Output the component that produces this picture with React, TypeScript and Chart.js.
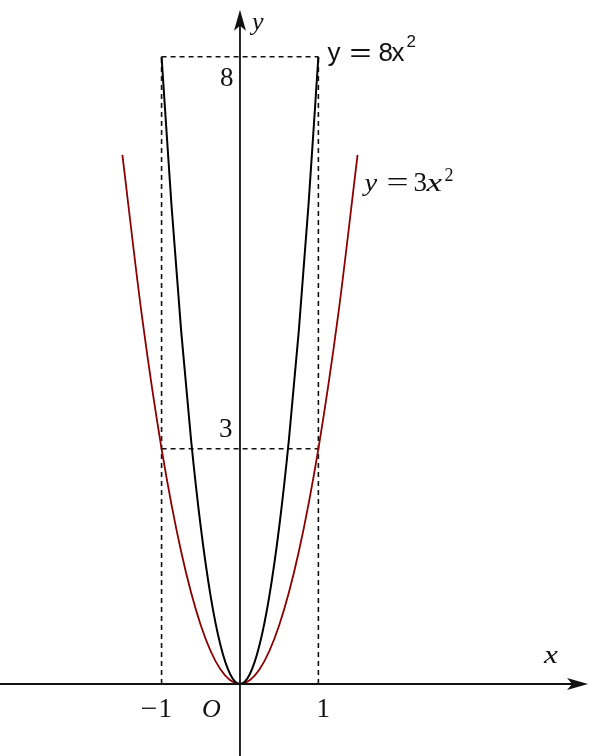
import { useRef, useEffect } from "react";
import Chart from "chart.js/auto";

// sample points for y = 8x^2 (on [-1, 1]) and y = 3x^2 (on [-1.5, 1.5])
const xs8 = [-1, -0.875, -0.75, -0.625, -0.5, -0.375, -0.25, -0.125, 0, 0.125, 0.25, 0.375, 0.5, 0.625, 0.75, 0.875, 1];
const ys8 = [8, 6.125, 4.5, 3.125, 2, 1.125, 0.5, 0.125, 0, 0.125, 0.5, 1.125, 2, 3.125, 4.5, 6.125, 8];
const xs3 = [-1.5, -1.25, -1, -0.75, -0.5, -0.25, 0, 0.25, 0.5, 0.75, 1, 1.25, 1.5];
const ys3 = [6.75, 4.6875, 3, 1.6875, 0.75, 0.1875, 0, 0.1875, 0.75, 1.6875, 3, 4.6875, 6.75];

// dashed guide lines
const guideX = [-1, 1];
const guideTop = 8;
const guideMid = 3;

const SERIF = "'Liberation Serif', 'DejaVu Serif', serif";
const SANS = "'Liberation Sans', Arial, sans-serif";

const pts = (xs: number[], ys: number[]) => xs.map((x, i) => ({ x, y: ys[i] }));

const axesPlugin = {
  id: "mathAxes",
  afterDatasetsDraw(chart: any) {
    const { ctx, scales } = chart;
    const sx = scales.x;
    const sy = scales.y;
    const ox = sx.getPixelForValue(0);
    const oy = sy.getPixelForValue(0);
    const xEnd = sx.getPixelForValue(4.44);
    const yEnd = sy.getPixelForValue(8.6);
    const p1 = sx.getPixelForValue(1);
    const pm1 = sx.getPixelForValue(-1);
    const p8 = sy.getPixelForValue(8);
    const p3 = sy.getPixelForValue(3);

    ctx.save();
    ctx.strokeStyle = "#111";
    ctx.fillStyle = "#111";
    ctx.lineWidth = 1.8;
    ctx.beginPath();
    ctx.moveTo(sx.left, oy);
    ctx.lineTo(xEnd - 8, oy);
    ctx.moveTo(ox, sy.bottom);
    ctx.lineTo(ox, yEnd + 8);
    ctx.stroke();

    // arrow heads
    ctx.beginPath();
    ctx.moveTo(xEnd, oy);
    ctx.lineTo(xEnd - 21, oy - 6);
    ctx.lineTo(xEnd - 16, oy);
    ctx.lineTo(xEnd - 21, oy + 6);
    ctx.closePath();
    ctx.fill();
    ctx.beginPath();
    ctx.moveTo(ox, yEnd);
    ctx.lineTo(ox - 6, yEnd + 21);
    ctx.lineTo(ox, yEnd + 16);
    ctx.lineTo(ox + 6, yEnd + 21);
    ctx.closePath();
    ctx.fill();

    ctx.textBaseline = "alphabetic";
    ctx.textAlign = "left";
    const t = (s: string, x: number, y: number, font: string, sxScale = 1) => {
      ctx.font = font;
      if (sxScale === 1) {
        ctx.fillText(s, x, y);
      } else {
        ctx.save();
        ctx.translate(x, y);
        ctx.scale(sxScale, 1);
        ctx.fillText(s, 0, 0);
        ctx.restore();
      }
    };
    const num = `27px ${SERIF}`;
    const ital = `italic 26px ${SERIF}`;

    t("8", ox - 20, p8 + 29, num);
    t("3", ox - 21, p3 - 12, num);
    t("\u2212", pm1 - 21, oy + 33, num, 1.1);
    t("1", pm1 - 3, oy + 33, num);
    t("O", ox - 38, oy + 33, ital);
    t("1", p1 - 2, oy + 33, num);
    t("x", ox + 304, oy - 21, ital, 1.2);
    t("y", ox + 12, 30, ital);

    // y = 8x^2 label (sans)
    const s26 = `26px ${SANS}`;
    const b8 = p8 + 4;
    t("y", p1 + 9, b8, s26);
    t("=", p1 + 31, b8, s26, 1.45);
    t("8", p1 + 60, b8, s26);
    t("x", p1 + 73, b8, s26);
    t("2", p1 + 88, b8 - 14, `17px ${SANS}`);

    // y = 3x^2 label (serif italic)
    const b3 = sy.getPixelForValue(6.29);
    t("y", p1 + 46, b3, ital, 1.1);
    t("=", p1 + 68, b3, num, 1.45);
    t("3", p1 + 95, b3, num);
    t("x", p1 + 108, b3, ital, 1.35);
    t("2", p1 + 126, b3 - 10, `18px ${SERIF}`);
    ctx.restore();
  },
};

export default function App() {
  const canvasRef = useRef<HTMLCanvasElement>(null);
  const chartRef = useRef<Chart | null>(null);

  useEffect(() => {
    if (!canvasRef.current) return;
    const dash = [5, 4];
    const guide = (data: { x: number; y: number }[]) => ({
      data,
      showLine: true,
      borderColor: "#111",
      borderWidth: 1.6,
      borderDash: dash,
      pointRadius: 0,
      fill: false,
    });
    chartRef.current = new Chart(canvasRef.current, {
      type: "scatter",
      data: {
        datasets: [
          {
            data: pts(xs8, ys8),
            showLine: true,
            borderColor: "#000",
            borderWidth: 2,
            pointRadius: 0,
            cubicInterpolationMode: "monotone",
          },
          {
            data: pts(xs3, ys3),
            showLine: true,
            borderColor: "#8b0000",
            borderWidth: 1.8,
            pointRadius: 0,
            cubicInterpolationMode: "monotone",
          },
          guide(pts(guideX, [guideTop, guideTop])),
          guide(pts(guideX, [guideMid, guideMid])),
          guide(pts([guideX[0], guideX[0]], [0, guideTop])),
          guide(pts([guideX[1], guideX[1]], [0, guideTop])),
        ] as any,
      },
      options: {
        animation: false,
        responsive: true,
        maintainAspectRatio: false,
        layout: { padding: 0 },
        scales: {
          x: { type: "linear", display: false, min: -3.061, max: 4.758 },
          y: { type: "linear", display: false, min: -0.918, max: 8.724 },
        },
        plugins: {
          legend: { display: false },
          tooltip: { enabled: false },
        },
      },
      plugins: [axesPlugin],
    });
    return () => {
      chartRef.current?.destroy();
      chartRef.current = null;
    };
  }, []);

  return (
    <div style={{ position: "absolute", left: 0, top: 0, width: 613, height: 756, background: "#fff" }}>
      <canvas ref={canvasRef} />
    </div>
  );
}
